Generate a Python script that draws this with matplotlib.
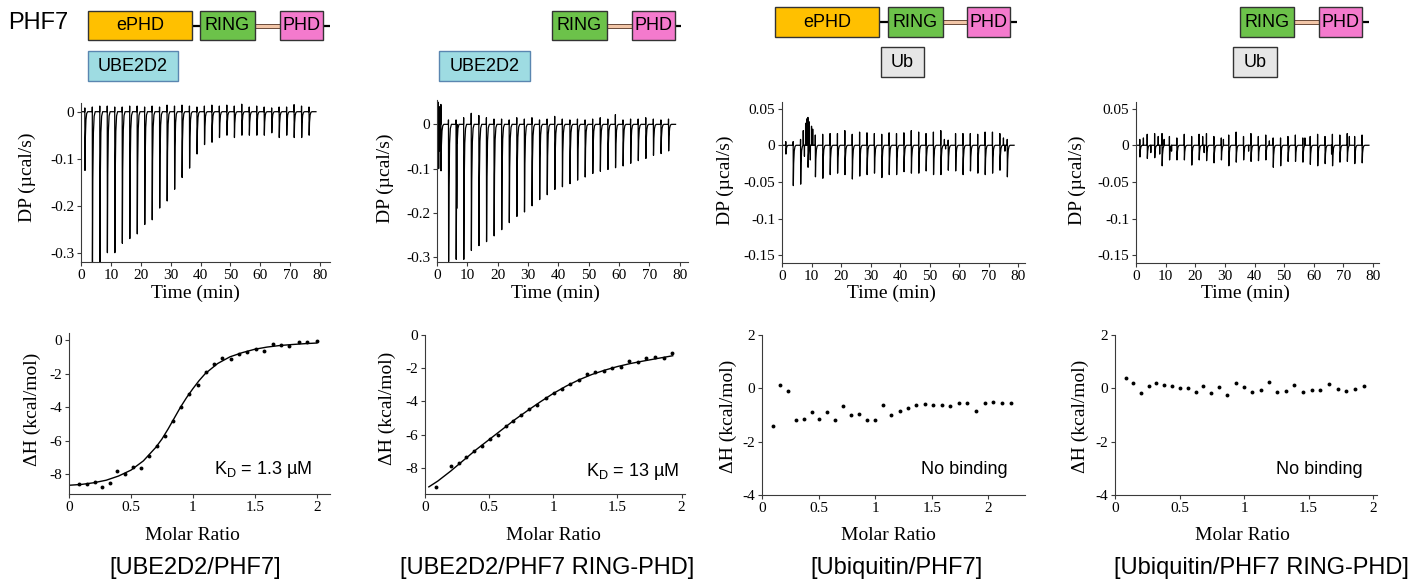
import matplotlib
matplotlib.use('Agg')
import matplotlib.pyplot as plt
from matplotlib.patches import Rectangle

W, H = 1425, 584
SERIF = ['Liberation Serif', 'DejaVu Serif']
SANS = ['Liberation Sans', 'DejaVu Sans']
plt.rcParams['font.family'] = SERIF
plt.rcParams['axes.unicode_minus'] = False
plt.rcParams['mathtext.fontset'] = 'custom'
plt.rcParams['mathtext.rm'] = 'Liberation Sans'
plt.rcParams['mathtext.it'] = 'Liberation Sans:italic'

# ---------------- data ----------------
titles = ['[UBE2D2/PHF7]', '[UBE2D2/PHF7 RING-PHD]', '[Ubiquitin/PHF7]', '[Ubiquitin/PHF7 RING-PHD]']
annotations = ['K$_\\mathregular{D}$ = 1.3 µM', 'K$_\\mathregular{D}$ = 13 µM', 'No binding', 'No binding']

time_ticks = [0, 10, 20, 30, 40, 50, 60, 70, 80]
dp_ticks_big = [0, -0.1, -0.2, -0.3]
dp_labels_big = ['0', '-0.1', '-0.2', '-0.3']
dp_ticks_small = [0.05, 0, -0.05, -0.1, -0.15]
dp_labels_small = ['0.05', '0', '-0.05', '-0.1', '-0.15']
ratio_ticks = [0, 0.5, 1, 1.5, 2]
ratio_labels = ['0', '0.5', '1', '1.5', '2']
dh_ticks_big = [0, -2, -4, -6, -8]
dh_labels_big = ['0', '-2', '-4', '-6', '-8']
dh_ticks_small = [2, 0, -2, -4]
dh_labels_small = ['2', '0', '-2', '-4']

# injection times (min)
inj_time = [1.3, 3.8, 6.3, 8.8, 11.3, 13.8, 16.3, 18.8, 21.3, 23.8, 26.3, 28.8, 31.3, 33.8,
            36.3, 38.8, 41.3, 43.8, 46.3, 48.8, 51.3, 53.8, 56.3, 58.8, 61.3, 63.8, 66.3,
            68.8, 71.3, 73.8, 76.3]
run_end = 78.6

# thermogram 1: UBE2D2 / PHF7
dp1_peak = [-0.125, -0.32, -0.32, -0.30, -0.30, -0.28, -0.27, -0.26, -0.24, -0.23, -0.205,
            -0.19, -0.165, -0.14, -0.12, -0.09, -0.07, -0.065, -0.055, -0.05, -0.055, -0.05,
            -0.05, -0.05, -0.05, -0.045, -0.055, -0.05, -0.055, -0.055, -0.05]
dp1_up = [0.008, 0.01, 0.012, 0.012, 0.01, 0.01, 0.012, 0.012, 0.01, 0.012, 0.01, 0.014,
          0.012, 0.014, 0.012, 0.01, 0.012, 0.014, 0.012, 0.014, 0.012, 0.016, 0.01, 0.012,
          0.01, 0.008, 0.01, 0.01, 0.015, 0.012, 0.01]
dp1_noise_t = []
dp1_noise_v = []

# thermogram 2: UBE2D2 / PHF7 RING-PHD
dp2_peak = [-0.105, -0.31, -0.305, -0.305, -0.285, -0.274, -0.265, -0.252, -0.238, -0.222,
            -0.208, -0.198, -0.184, -0.17, -0.159, -0.147, -0.141, -0.134, -0.126, -0.119,
            -0.111, -0.106, -0.102, -0.098, -0.094, -0.088, -0.082, -0.077, -0.07, -0.066, -0.06]
dp2_up = [0.045, 0.01, 0.01, 0.015, 0.025, 0.02, 0.015, 0.012, 0.012, 0.01, 0.015, 0.012,
          0.015, 0.01, 0.012, 0.018, 0.012, 0.01, 0.012, 0.01, 0.012, 0.015, 0.012, 0.022,
          0.01, 0.012, 0.012, 0.015, 0.012, 0.01, 0.012]
dp2_noise_t = [0.1, 0.25, 0.4, 0.55, 0.7, 0.85, 6.5]
dp2_noise_v = [0.055, -0.09, 0.05, -0.1, 0.04, -0.06, -0.19]

# thermogram 3: Ubiquitin / PHF7
dp3_peak = [-0.012, -0.055, -0.053, -0.03, -0.043, -0.045, -0.04, -0.038, -0.04, -0.046,
            -0.042, -0.04, -0.038, -0.044, -0.04, -0.04, -0.036, -0.038, -0.038, -0.035,
            -0.04, -0.04, -0.034, -0.035, -0.04, -0.035, -0.038, -0.04, -0.038, -0.034, -0.043]
dp3_up = [0.005, 0.005, 0.008, 0.038, 0.014, 0.015, 0.016, 0.016, 0.02, 0.015, 0.018, 0.017,
          0.016, 0.015, 0.017, 0.016, 0.017, 0.02, 0.018, 0.016, 0.018, 0.02, 0.007, 0.016,
          0.016, 0.016, 0.015, 0.018, 0.018, 0.016, 0.008]
dp3_noise_t = [7.2, 7.6, 8.0, 8.4, 9.2, 9.6, 10.0, 10.4, 55.0, 55.4, 75.0, 75.5]
dp3_noise_v = [0.02, -0.015, 0.03, 0.036, 0.032, -0.02, 0.026, 0.022, 0.008, -0.005, 0.01, -0.008]

# thermogram 4: Ubiquitin / PHF7 RING-PHD
dp4_peak = [-0.016, -0.018, -0.017, -0.028, -0.02, -0.02, -0.02, -0.027, -0.02, -0.021,
            -0.024, -0.02, -0.028, -0.023, -0.02, -0.022, -0.021, -0.02, -0.03, -0.028,
            -0.022, -0.022, -0.023, -0.026, -0.028, -0.025, -0.028, -0.023, -0.022, -0.025, -0.024]
dp4_up = [0.008, 0.015, 0.016, 0.016, 0.012, 0.01, 0.015, 0.012, 0.015, 0.016, 0.012, 0.01,
          0.014, 0.018, 0.012, 0.016, 0.012, 0.014, 0.01, 0.01, 0.012, 0.014, 0.01, 0.012,
          0.015, 0.012, 0.015, 0.014, 0.016, 0.012, 0.014]
dp4_noise_t = [2.5, 5.0, 7.5, 8.0, 9.5, 12.0, 22.5, 23.0, 29.5, 38.0, 45.0, 57.0, 66.0, 72.0]
dp4_noise_v = [0.01, -0.01, 0.012, -0.012, 0.008, -0.008, 0.012, -0.01, 0.008, -0.008,
               0.006, 0.01, -0.012, 0.012]

# isotherm 1
iso1_x = [0.081, 0.143, 0.207, 0.269, 0.331, 0.39, 0.455, 0.517, 0.581, 0.646, 0.711, 0.778,
          0.843, 0.904, 0.969, 1.042, 1.106, 1.174, 1.238, 1.305, 1.37, 1.437, 1.507, 1.577,
          1.645, 1.712, 1.779, 1.86, 1.925, 2.0]
iso1_y = [-8.57, -8.59, -8.43, -8.73, -8.49, -7.78, -7.96, -7.54, -7.62, -6.90, -6.31, -5.69,
          -4.80, -3.99, -3.21, -2.68, -1.88, -1.45, -1.05, -1.15, -0.83, -0.69, -0.56, -0.63,
          -0.24, -0.30, -0.34, -0.12, -0.12, -0.08]
fit1_x = [0, 0.1, 0.2, 0.3, 0.4, 0.5, 0.6, 0.7, 0.75, 0.8, 0.85, 0.9, 0.95, 1.0, 1.05, 1.1,
          1.2, 1.3, 1.4, 1.5, 1.6, 1.7, 1.8, 1.9, 2.0]
fit1_y = [-8.65, -8.6, -8.5, -8.35, -8.1, -7.75, -7.2, -6.4, -5.9, -5.3, -4.65, -4.0, -3.42,
          -2.9, -2.42, -2.0, -1.4, -1.0, -0.75, -0.55, -0.42, -0.33, -0.27, -0.22, -0.18]

# isotherm 2
iso2_x = [0.086, 0.2, 0.262, 0.322, 0.384, 0.444, 0.506, 0.566, 0.629, 0.688, 0.751, 0.813,
          0.875, 0.94, 1.003, 1.068, 1.132, 1.197, 1.262, 1.327, 1.392, 1.46, 1.525, 1.59,
          1.657, 1.725, 1.792, 1.86, 1.927]
iso2_y = [-9.15, -7.90, -7.70, -7.36, -7.0, -6.71, -6.25, -6.03, -5.47, -5.19, -4.84, -4.48,
          -4.22, -3.82, -3.48, -3.24, -2.95, -2.73, -2.35, -2.25, -2.17, -2.01, -1.91, -1.59,
          -1.65, -1.37, -1.35, -1.37, -1.11]
fit2_x = [0.03, 0.1, 0.2, 0.3, 0.4, 0.5, 0.6, 0.7, 0.8, 0.9, 1.0, 1.1, 1.2, 1.3, 1.4, 1.5,
          1.6, 1.7, 1.8, 1.93]
fit2_y = [-9.15, -8.8, -8.2, -7.55, -6.9, -6.3, -5.7, -5.1, -4.55, -4.02, -3.52, -3.08,
          -2.7, -2.38, -2.12, -1.9, -1.72, -1.57, -1.43, -1.25]

# isotherm 3
iso3_x = [0.097, 0.162, 0.229, 0.30, 0.37, 0.438, 0.506, 0.576, 0.644, 0.715, 0.785, 0.856,
          0.926, 0.997, 1.07, 1.144, 1.218, 1.291, 1.365, 1.438, 1.512, 1.588, 1.662, 1.738,
          1.815, 1.891, 1.968, 2.044, 2.124, 2.203]
iso3_y = [-1.40, 0.125, -0.10, -1.2, -1.14, -0.9, -1.14, -0.89, -1.19, -0.66, -0.99, -0.96,
          -1.19, -1.2, -0.64, -1.0, -0.84, -0.74, -0.61, -0.6, -0.64, -0.63, -0.68, -0.54,
          -0.56, -0.86, -0.56, -0.5, -0.54, -0.54]

# isotherm 4
iso4_x = [0.083, 0.142, 0.201, 0.261, 0.32, 0.382, 0.441, 0.5, 0.563, 0.625, 0.686, 0.748,
          0.81, 0.872, 0.937, 0.999, 1.063, 1.128, 1.192, 1.257, 1.324, 1.391, 1.458, 1.525,
          1.592, 1.659, 1.726, 1.794, 1.861, 1.93]
iso4_y = [0.40, 0.19, -0.19, 0.09, 0.21, 0.11, 0.075, 0.01, 0.01, -0.125, 0.09, -0.16, 0.05,
          -0.26, 0.19, 0.05, -0.14, -0.05, 0.25, -0.125, -0.11, 0.125, -0.14, -0.075, -0.05,
          0.175, -0.025, -0.1, -0.025, 0.075]

# ---------------- drawing ----------------
fig = plt.figure(figsize=(W / 100, H / 100), dpi=100)
AX_COL = '#3a3a3a'


def ax_px(x0, x1, y0, y1):
    a = fig.add_axes([x0 / W, 1 - y1 / H, (x1 - x0) / W, (y1 - y0) / H])
    a.set_facecolor('none')
    return a


def style(ax):
    for s in ['top', 'right']:
        ax.spines[s].set_visible(False)
    for s in ['left', 'bottom']:
        ax.spines[s].set_color(AX_COL)
        ax.spines[s].set_linewidth(0.8)
    ax.tick_params(direction='out', length=3, width=0.8, color=AX_COL, labelsize=11,
                   pad=2, labelcolor='black')


def trace(times, peaks, ups, nt, nv, t_end):
    pts = [(0.0, 0.0)]
    for t, d, u in zip(times, peaks, ups):
        pts += [(t - 0.05, 0.0), (t - 0.02, u), (t + 0.03, d), (t + 0.15, 0.45 * d),
                (t + 0.35, 0.14 * d), (t + 0.6, 0.03 * d), (t + 0.95, 0.0)]
    for t, v in zip(nt, nv):
        pts += [(t - 0.04, 0.0), (t, v), (t + 0.04, 0.0)]
    pts.append((t_end, 0.0))
    pts.sort()
    return [p[0] for p in pts], [p[1] for p in pts]


thermo_specs = [
    ((81, 330, 103, 262), (0, 83.3), (-0.3198, 0.0185), dp_ticks_big, dp_labels_big,
     dp1_peak, dp1_up, dp1_noise_t, dp1_noise_v),
    ((437, 688, 100, 262), (0, 82.7), (-0.311, 0.055), dp_ticks_big, dp_labels_big,
     dp2_peak, dp2_up, dp2_noise_t, dp2_noise_v),
    ((782, 1025, 102, 263), (0, 82.3), (-0.1605, 0.059), dp_ticks_small, dp_labels_small,
     dp3_peak, dp3_up, dp3_noise_t, dp3_noise_v),
    ((1136, 1379, 102, 263), (0, 82.0), (-0.1605, 0.059), dp_ticks_small, dp_labels_small,
     dp4_peak, dp4_up, dp4_noise_t, dp4_noise_v),
]
for box, xl, yl, yt, ylab, pk, up, nt, nv in thermo_specs:
    ax = ax_px(*box)
    style(ax)
    tx, ty = trace(inj_time, pk, up, nt, nv, run_end)
    ax.plot(tx, ty, color='black', lw=0.9)
    ax.set_xlim(*xl)
    ax.set_ylim(*yl)
    ax.set_xticks(time_ticks)
    ax.set_xticklabels([str(t) for t in time_ticks])
    ax.set_yticks(yt)
    ax.set_yticklabels(ylab)

iso_specs = [
    ((69, 330, 333, 494), (0, 2.107), (-9.17, 0.417), dh_ticks_big, dh_labels_big,
     iso1_x, iso1_y, fit1_x, fit1_y),
    ((425, 685, 335, 494), (0, 2.026), (-9.58, 0.0), dh_ticks_big, dh_labels_big,
     iso2_x, iso2_y, fit2_x, fit2_y),
    ((762, 1025, 335, 495), (0, 2.324), (-4, 2), dh_ticks_small, dh_labels_small,
     iso3_x, iso3_y, None, None),
    ((1115, 1377, 335, 495), (0, 2.031), (-4, 2), dh_ticks_small, dh_labels_small,
     iso4_x, iso4_y, None, None),
]
for box, xl, yl, yt, ylab, px, py, fx, fy in iso_specs:
    ax = ax_px(*box)
    style(ax)
    if fx is not None:
        ax.plot(fx, fy, color='black', lw=1.0)
    ax.plot(px, py, 'o', color='black', ms=2.8, mew=0)
    ax.set_xlim(*xl)
    ax.set_ylim(*yl)
    ax.set_xticks(ratio_ticks)
    ax.set_xticklabels(ratio_labels)
    ax.set_yticks(yt)
    ax.set_yticklabels(ylab)

# overlay in pixel coordinates for labels and domain diagrams
ov = fig.add_axes([0, 0, 1, 1])
ov.set_xlim(0, W)
ov.set_ylim(H, 0)
ov.axis('off')
ov.set_zorder(10)
ov.patch.set_visible(False)

LAB = 14
for x, y in [(27, 177), (385, 178), (725, 180), (1077, 180)]:
    ov.text(x, y, 'DP (µcal/s)', rotation=90, ha='center', va='center', fontsize=LAB,
            family=SERIF)
for x in [195, 555, 891, 1245]:
    ov.text(x, 293, 'Time (min)', ha='center', va='center', fontsize=LAB, family=SERIF)
for x, y in [(32, 409), (387, 408), (728, 416), (1080, 416)]:
    ov.text(x, y, 'ΔH (kcal/mol)', rotation=90, ha='center', va='center', fontsize=LAB,
            family=SERIF)
for x in [192, 553, 888, 1242]:
    ov.text(x, 535, 'Molar Ratio', ha='center', va='center', fontsize=LAB, family=SERIF)

for x, t in zip([195, 547, 897, 1261], titles):
    ov.text(x, 568, t, ha='center', va='center', fontsize=17, family=SANS)

for (x, y), t in zip([(312, 470), (679, 471), (1008, 469), (1363, 469)], annotations):
    ov.text(x, y, t, ha='right', va='center', fontsize=13, family=SANS)

# domain diagrams
C_EPHD, C_RING, C_PHD = '#FFC000', '#6CC24A', '#F47ACD'
C_UBE, C_UB = '#9EDCE2', '#E6E6E6'
EDGE = '#333333'


def dbox(x0, x1, y0, y1, face, label, edge=EDGE):
    ov.add_patch(Rectangle((x0, y0), x1 - x0, y1 - y0, facecolor=face, edgecolor=edge,
                           lw=1.0, zorder=3))
    ov.text((x0 + x1) / 2, (y0 + y1) / 2 + 0.5, label, ha='center', va='center',
            fontsize=13, family=SANS, zorder=4)


def link(x0, x1, y):
    ov.plot([x0, x1], [y, y], color='black', lw=1.6, zorder=2, solid_capstyle='butt')


def dlink(x0, x1, y):
    ov.add_patch(Rectangle((x0, y - 2), x1 - x0, 4, facecolor='#F2C6A8', edgecolor='#6a4a3a',
                           lw=0.7, zorder=2))


ov.text(38, 23, 'PHF7', ha='center', va='center', fontsize=17, family=SANS)
# panel 1
dbox(88, 192, 11, 40, C_EPHD, 'ePHD'); link(192, 200, 25.5)
dbox(200, 255, 11, 40, C_RING, 'RING'); dlink(255, 280, 25.5)
dbox(280, 323, 11, 40, C_PHD, 'PHD'); link(323, 330, 25.5)
dbox(88, 178, 51, 81, C_UBE, 'UBE2D2', edge='#5A86B0')
# panel 2
dbox(552, 607, 11, 40, C_RING, 'RING'); dlink(607, 632, 25.5)
dbox(632, 675, 11, 40, C_PHD, 'PHD'); link(675, 681, 25.5)
dbox(439, 530, 51, 81, C_UBE, 'UBE2D2', edge='#5A86B0')
# panel 3
dbox(775, 879, 7, 37, C_EPHD, 'ePHD'); link(879, 888, 22)
dbox(888, 943, 7, 37, C_RING, 'RING'); dlink(943, 967, 22)
dbox(967, 1010, 7, 37, C_PHD, 'PHD'); link(1010, 1017, 22)
dbox(881, 924, 47, 77, C_UB, 'Ub')
# panel 4
dbox(1240, 1294, 7, 37, C_RING, 'RING'); dlink(1294, 1319, 22)
dbox(1319, 1362, 7, 37, C_PHD, 'PHD'); link(1362, 1369, 22)
dbox(1233, 1277, 47, 77, C_UB, 'Ub')

fig.savefig('out.png', dpi=100)
